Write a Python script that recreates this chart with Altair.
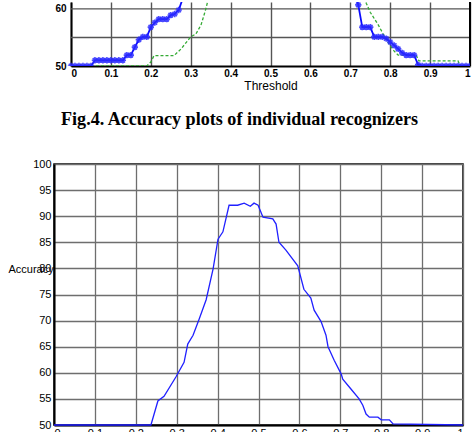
import altair as alt
import pandas as pd

# ---------------- data ----------------
# bottom chart (combined recognizer accuracy vs threshold)
thr = [0, 0.237, 0.254, 0.269, 0.298, 0.318, 0.327, 0.34, 0.355, 0.372, 0.389,
       0.401, 0.413, 0.428, 0.449, 0.465, 0.48, 0.489, 0.499, 0.511, 0.535,
       0.543, 0.55, 0.567, 0.596, 0.611, 0.628, 0.636, 0.653, 0.665, 0.67,
       0.685, 0.702, 0.706, 0.726, 0.746, 0.755, 0.763, 0.771, 0.792, 0.8,
       0.82, 0.829, 1.0]
acc = [50, 50, 54.6, 55.5, 59.2, 62, 65.5, 67.2, 70.3, 74, 79.9,
       85.6, 87, 92.1, 92.1, 92.5, 91.9, 92.5, 92.1, 89.8, 89.5,
       88.5, 85, 83.5, 80.5, 76, 74.3, 72, 69.8, 67.2, 65,
       62.4, 59.8, 58.8, 56.9, 55, 53.8, 52.1, 51.5, 51.5, 51,
       51, 50.2, 50]

# top (partially visible) chart: blue starred series
blue_x = [0, 0.01, 0.02, 0.03, 0.04, 0.05, 0.06, 0.07, 0.08, 0.09, 0.10, 0.11,
          0.12, 0.13, 0.14, 0.15, 0.16, 0.17, 0.18, 0.19, 0.20, 0.21, 0.22,
          0.23, 0.24, 0.25, 0.26, 0.27, 0.28, 0.30, 0.40, 0.50, 0.60, 0.70,
          0.71, 0.72, 0.73, 0.74, 0.75, 0.76, 0.77, 0.78, 0.79, 0.80, 0.81,
          0.82, 0.83, 0.84, 0.85, 0.86, 0.87, 0.88, 0.89, 0.90, 0.91, 0.92,
          0.93, 0.94, 0.95, 0.96, 0.97, 0.98, 0.99, 1.0]
blue_y = [50, 50, 50, 50, 50, 50, 51, 51, 51, 51, 51, 51,
          51, 51, 51.9, 51.9, 53.3, 54.6, 55.1, 55.1, 56.8, 57.6, 58.2,
          58.2, 58.2, 58.9, 59.1, 59.8, 61.8, 66, 82, 90, 84, 66,
          63, 60.7, 56.8, 56.8, 56.8, 55.1, 55.1, 55.1, 54.8, 54.2, 53.6,
          53.0, 52.3, 51.9, 51.9, 51.9, 50.2, 50, 50, 50, 50, 50,
          50, 50, 50, 50, 50, 50, 50, 50]

# top chart: green dashed series
green_x = [0, 0.19, 0.2, 0.208, 0.258, 0.276, 0.3, 0.313, 0.326, 0.338, 0.345,
           0.40, 0.50, 0.60, 0.70, 0.735, 0.74, 0.75, 0.76, 0.77, 0.78, 0.79,
           0.80, 0.81, 0.82, 0.865, 0.872, 0.97, 0.975, 1.0]
green_y = [50, 50, 50.7, 51.8, 51.8, 53, 55.1, 55.6, 57.2, 60, 62,
           80, 90, 85, 68, 62, 61, 59.4, 58.3, 57.2, 55.9, 54.6,
           53.6, 52.6, 51.9, 51.9, 50.9, 50.9, 50.1, 50]

x_ticks = [0, 0.1, 0.2, 0.3, 0.4, 0.5, 0.6, 0.7, 0.8, 0.9, 1]
top_y_ticks = [50, 55, 60]
top_hgrid = [55, 60]
bottom_y_ticks = [50, 55, 60, 65, 70, 75, 80, 85, 90, 95, 100]
caption = "Fig.4. Accuracy plots of individual recognizers"
x_title_top = "Threshold"
y_title_bottom = "Accuracy"

# ---------------- top chart ----------------
TOP_W, TOP_H = 416, 64
xs_top = alt.Scale(domain=[0, 1], range=[17, 416], nice=False, zero=False)
ys_top = alt.Scale(domain=[50, 61.2], nice=False, zero=False)

x_axis_top = alt.Axis(values=x_ticks, format="~g", grid=True, gridColor="#555555",
                      gridWidth=1.4, domain=True, domainColor="black", domainWidth=2,
                      ticks=False, labelFont="Liberation Sans", labelFontWeight="bold",
                      labelFontSize=10, labelPadding=2, labelColor="black",
                      title=x_title_top, titleFont="Liberation Sans",
                      titleFontWeight="normal", titleFontSize=12, titlePadding=2,
                      titleColor="black")
y_axis_top = alt.Axis(values=top_y_ticks, grid=False, offset=-17, domain=True,
                      domainColor="black", domainWidth=2, ticks=False,
                      labelFont="Liberation Sans", labelFontWeight="bold",
                      labelFontSize=10, labelPadding=5, labelColor="black", title=None)

blue_df = pd.DataFrame({"t": blue_x, "a": blue_y})
green_df = pd.DataFrame({"t": green_x, "a": green_y})
hgrid_df = pd.DataFrame({"a": top_hgrid})

hgrid = alt.Chart(hgrid_df).mark_rule(color="#555555", strokeWidth=1.4).encode(
    x=alt.datum(0, scale=xs_top, axis=x_axis_top),
    x2=alt.datum(1),
    y=alt.Y("a:Q", scale=ys_top, axis=y_axis_top),
)
right_edge = alt.Chart(hgrid_df).mark_rule(color="black", strokeWidth=2).encode(
    x=alt.datum(1), y=alt.datum(50), y2=alt.datum(61.2)
)
green_line = alt.Chart(green_df).mark_line(
    color="#33aa33", strokeDash=[3, 2], strokeWidth=1.3, clip=True
).encode(x="t:Q", y="a:Q")
blue_line = alt.Chart(blue_df).mark_line(
    color="#0a0aff", strokeWidth=1.8, clip=True
).encode(x="t:Q", y="a:Q")
star = "M-1,0L1,0M0,-1L0,1M-0.7,-0.7L0.7,0.7M-0.7,0.7L0.7,-0.7"
blue_pts = alt.Chart(blue_df).mark_point(
    shape=star, size=40, color="#2a2aff", strokeWidth=1.6, filled=False,
    opacity=0.85, clip=True
).encode(x="t:Q", y="a:Q")

top_chart = alt.layer(hgrid, right_edge, green_line, blue_line, blue_pts).properties(
    width=TOP_W, height=TOP_H,
    view=alt.ViewBackground(stroke="transparent"),
)

# ---------------- bottom chart ----------------
BW, BH = 409, 261
bx = alt.Scale(domain=[0, 1], nice=False, zero=False)
by = alt.Scale(domain=[50, 100], nice=False, zero=False)

bottom_df = pd.DataFrame({"t": thr, "a": acc})
bottom_line = alt.Chart(bottom_df).mark_line(color="#2020ff", strokeWidth=1.3).encode(
    x=alt.X("t:Q", scale=bx, axis=alt.Axis(
        values=x_ticks, format="~g", grid=True, gridColor="#6e6e6e", gridWidth=1.3,
        domain=True, domainColor="black", domainWidth=2, ticks=False,
        labelFont="Liberation Sans", labelFontSize=11, labelPadding=2,
        labelColor="black", title=None)),
    y=alt.Y("a:Q", scale=by, axis=alt.Axis(
        values=bottom_y_ticks, grid=True, gridColor="#6e6e6e", gridWidth=1.3,
        domain=True, domainColor="black", domainWidth=2, ticks=False,
        labelFont="Liberation Sans", labelFontSize=11, labelPadding=3,
        labelColor="black", title=y_title_bottom, titleAngle=0, titleX=-46,
        titleY=105, titleAlign="left", titleBaseline="middle",
        titleFont="Liberation Sans", titleFontWeight="normal", titleFontSize=11,
        titleColor="black")),
)

bottom_chart = alt.layer(bottom_line).properties(
    width=BW, height=BH,
    view=alt.ViewBackground(stroke="black", strokeWidth=1.5),
    title=alt.TitleParams(caption, font="Liberation Serif", fontSize=18.1,
                          fontWeight="bold", color="black", anchor="middle",
                          frame="group", dx=-19, offset=15, baseline="alphabetic"),
)

chart = alt.vconcat(top_chart, bottom_chart, spacing=98, bounds="flush").properties(
    padding={"left": 7, "top": 0, "right": 0, "bottom": 0},
    background="white",
)

chart.save("out.html", embed_options={"renderer": "svg", "actions": False})
